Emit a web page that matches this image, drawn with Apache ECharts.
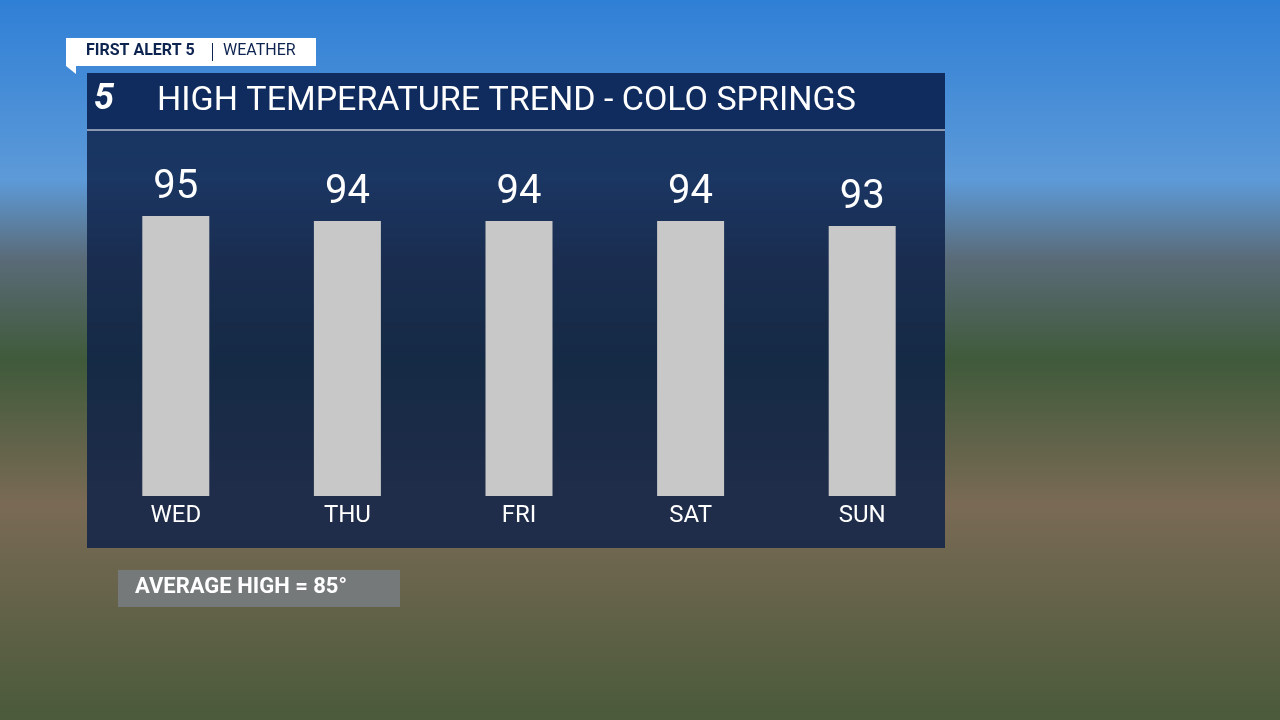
<!DOCTYPE html>
<html><head><meta charset="utf-8">
<script src="https://cdn.jsdelivr.net/npm/echarts@6/dist/echarts.min.js"></script>
<style>html,body{margin:0;padding:0}#c{width:1280px;height:720px}</style>
</head><body><div id="c"></div>
<script>
const days = ['WED','THU','FRI','SAT','SUN'];
const highs = [95, 94, 94, 94, 93];
const titleText = 'HIGH TEMPERATURE TREND - COLO SPRINGS';
const averageText = 'AVERAGE HIGH = 85°';

const chart = echarts.init(document.getElementById('c'));
const F = 'Roboto, "Open Sans", sans-serif';
chart.setOption({
  animation: false,
  backgroundColor: {type:'linear',x:0,y:0,x2:0,y2:1,colorStops:[
    {offset:0,color:'#2f7fd6'},{offset:0.25,color:'#5d9ad8'},{offset:0.36,color:'#5a6b78'},
    {offset:0.5,color:'#3f5a3a'},{offset:0.7,color:'#7a6a55'},{offset:1,color:'#4a5a3a'}]},
  graphic: [
    {type:'rect',shape:{x:87,y:73,width:858,height:475},style:{fill:'rgba(12,32,72,0.82)'},z:-1},
    {type:'rect',shape:{x:87,y:73,width:858,height:57},style:{fill:'#102c5e'},z:-1},
    {type:'rect',shape:{x:87,y:129,width:858,height:2},style:{fill:'rgba(255,255,255,0.5)'}},
    {type:'text',x:94,y:82,style:{text:'5',fill:'#fff',font:'bold italic 36px '+F}},
    {type:'text',x:157,y:84,style:{text:titleText,fill:'#fff',font:'34px '+F}},
    {type:'rect',shape:{x:66,y:38,width:250,height:28},style:{fill:'#fff'}},
    {type:'polygon',shape:{points:[[66,66],[76,66],[76,74]]},style:{fill:'#fff'}},
    {type:'text',x:86,y:43,style:{text:'FIRST ALERT 5',fill:'#0d2350',font:'bold 16px '+F}},
    {type:'rect',shape:{x:212,y:43,width:1,height:18},style:{fill:'#0d2350'}},
    {type:'text',x:223,y:43,style:{text:'WEATHER',fill:'#0d2350',font:'16px '+F}},
    {type:'rect',shape:{x:118,y:570,width:282,height:37},style:{fill:'rgba(120,125,130,0.85)'}},
    {type:'text',x:135,y:576,style:{text:averageText,fill:'#fff',font:'bold 22px '+F}}
  ],
  grid: {left:90, width:858, top:216, bottom:224},
  xAxis: {type:'category', data:days, axisLine:{show:false}, axisTick:{show:false},
    axisLabel:{color:'#fff', fontSize:24, fontFamily:F, margin:8}},
  yAxis: {type:'value', min:39, max:95, show:false, splitLine:{show:false}},
  series: [{type:'bar', data:highs, barWidth:67, itemStyle:{color:'#c8c8c8'},
    label:{show:true, position:'top', color:'#fff', fontSize:40, fontFamily:F, distance:8}}]
});
</script></body></html>
